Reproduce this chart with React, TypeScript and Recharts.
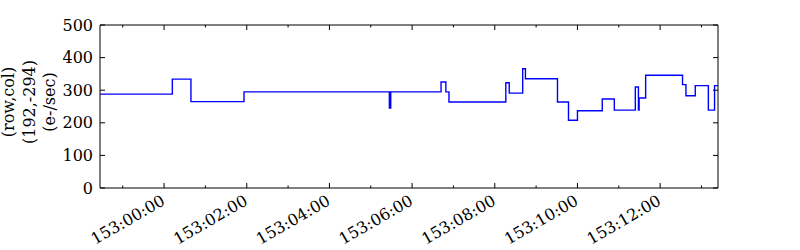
import React from 'react';
import { LineChart, Line, XAxis, YAxis } from 'recharts';

// seconds relative to 153:00:00
const times = [-93, 12, 39, 116, 327, 329, 402, 409, 413.5, 496, 501, 520.5, 524.5, 571, 587, 600, 636, 653.5, 684, 688.5, 689.5, 699, 752.5, 757.5, 771, 790, 799, 804];
const rates = [288, 334, 265, 295, 245, 295, 325, 295, 264, 323, 291, 366, 335, 264, 208, 237, 273, 239, 310, 239, 276, 346, 317, 283, 314, 239, 314, 314];

const xTickValues = [-60, 0, 60, 120, 180, 240, 300, 360, 420, 480, 540, 600, 660, 720, 780];
const xMajorValues = [0, 120, 240, 360, 480, 600, 720];
const xTickLabels = ['153:00:00', '153:02:00', '153:04:00', '153:06:00', '153:08:00', '153:10:00', '153:12:00'];
const yTickValues = [0, 100, 200, 300, 400, 500];
const yLabelLines = ['(row,col)', '(192,-294)', '(e-/sec)'];

const data = times.map((t, i) => ({ t, v: rates[i] }));
const xDomain = [times[0], times[times.length - 1]];

const FONT = 'DejaVu Serif';
const FS = 16;

const BottomTick = (props: any) => {
  const { x, y, payload } = props;
  const idx = xMajorValues.indexOf(payload.value);
  const major = idx >= 0;
  const ax = x - 4;
  const ay = y + 5.5;
  return (
    <g>
      <line x1={x} x2={x} y1={y} y2={y - (major ? 5 : 2.5)} stroke="#000" strokeWidth={1} />
      {major && (
        <text x={ax} y={ay} transform={`rotate(-30, ${ax}, ${ay})`} textAnchor="end" dominantBaseline="hanging"
          fontFamily={FONT} fontSize={FS} fill="#000">{xTickLabels[idx]}</text>
      )}
    </g>
  );
};

const TopTick = (props: any) => {
  const { x, y, payload } = props;
  const major = xMajorValues.indexOf(payload.value) >= 0;
  return <line x1={x} x2={x} y1={y} y2={y + (major ? 5 : 2.5)} stroke="#000" strokeWidth={1} />;
};

const LeftTick = (props: any) => {
  const { x, y, payload } = props;
  return (
    <g>
      <line x1={x} x2={x + 5} y1={y} y2={y} stroke="#000" strokeWidth={1} />
      <text x={x - 7} y={y} textAnchor="end" dominantBaseline="central" fontFamily={FONT} fontSize={FS} fill="#000">{payload.value}</text>
    </g>
  );
};

const RightTick = (props: any) => {
  const { x, y } = props;
  return <line x1={x} x2={x - 5} y1={y} y2={y} stroke="#000" strokeWidth={1} />;
};

export default function App() {
  return (
    <div style={{ position: 'absolute', left: 0, top: 0, width: 800, height: 250, background: '#fff' }}>
      <LineChart width={800} height={250} data={data} margin={{ top: 24, right: 81, left: 0, bottom: 0 }}>
        <XAxis xAxisId="b" dataKey="t" type="number" domain={xDomain} allowDataOverflow ticks={xTickValues} interval={0}
          tick={<BottomTick />} tickLine={false} tickSize={0} tickMargin={0} height={62}
          axisLine={{ stroke: '#000', strokeWidth: 1 }} />
        <XAxis xAxisId="t" orientation="top" dataKey="t" type="number" domain={xDomain} allowDataOverflow ticks={xTickValues} interval={0}
          tick={<TopTick />} tickLine={false} tickSize={0} tickMargin={0} height={1}
          axisLine={{ stroke: '#000', strokeWidth: 1 }} />
        <YAxis yAxisId="l" type="number" domain={[0, 500]} ticks={yTickValues} interval={0}
          tick={<LeftTick />} tickLine={false} tickSize={0} tickMargin={0} width={100}
          axisLine={{ stroke: '#000', strokeWidth: 1 }} />
        <YAxis yAxisId="r" orientation="right" type="number" domain={[0, 500]} ticks={yTickValues} interval={0}
          tick={<RightTick />} tickLine={false} tickSize={0} tickMargin={0} width={1}
          axisLine={{ stroke: '#000', strokeWidth: 1 }} />
        <Line xAxisId="b" yAxisId="l" type="stepAfter" dataKey="v" stroke="#0000ff" strokeWidth={1.4}
          dot={false} activeDot={false} isAnimationActive={false} />
        <Line xAxisId="t" yAxisId="r" type="stepAfter" dataKey="v" stroke="none" strokeWidth={0}
          dot={false} activeDot={false} isAnimationActive={false} legendType="none" />
      </LineChart>
      <svg width={800} height={250} style={{ position: 'absolute', left: 0, top: 0, pointerEvents: 'none' }}>
        {yLabelLines.map((s, i) => {
          const cx = 8.5 + i * 20.5;
          const cy = 102;
          return (
            <text key={s} x={cx} y={cy} transform={`rotate(-90, ${cx}, ${cy})`} textAnchor="middle" dominantBaseline="central"
              fontFamily={FONT} fontSize={FS} fill="#000">{s}</text>
          );
        })}
      </svg>
    </div>
  );
}
